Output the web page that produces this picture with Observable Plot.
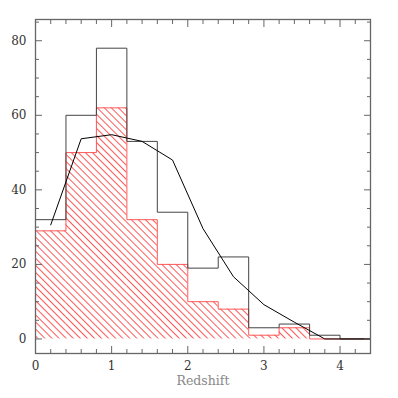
<!DOCTYPE html>
<html><head>
<meta charset="utf-8">
<script src="https://cdn.jsdelivr.net/npm/d3@7"></script>
<script src="https://cdn.jsdelivr.net/npm/@observablehq/plot@0.6"></script>
<style>body{margin:0;background:#fff}</style>
</head><body><div id="chart"></div>
<script>
// Histogram bins (redshift)
const binEdges = [0, 0.4, 0.8, 1.2, 1.6, 2.0, 2.4, 2.8, 3.2, 3.6, 4.0, 4.4];
const allCounts = [32, 60, 78, 53, 34, 19, 22, 3, 4, 1, 0];
const subCounts = [29, 50, 62, 32, 20, 10, 8, 1, 3, 0, 0];
// Model curve
const curveX = [0.2, 0.6, 1.0, 1.4, 1.8, 2.2, 2.6, 3.0, 3.4, 3.8, 4.2, 4.4];
const curveY = [30.6, 53.7, 54.8, 53, 48, 29.6, 16.7, 9.2, 4.5, 0, 0, 0];
// Ticks
const xMajor = [0, 1, 2, 3, 4];
const xMinor = [0.2,0.4,0.6,0.8,1.2,1.4,1.6,1.8,2.2,2.4,2.6,2.8,3.2,3.4,3.6,3.8,4.2];
const yMajor = [0, 20, 40, 60, 80];
const yMinor = [5,10,15,25,30,35,45,50,55,65,70,75,85];
const xTitle = ["Redshift"];

function stepData(counts) {
  const pts = [{x: binEdges[0], y: 0}];
  counts.forEach((c, i) => pts.push({x: binEdges[i], y: c}));
  pts.push({x: binEdges[binEdges.length - 1], y: counts[counts.length - 1]});
  return pts;
}
const bins = subCounts.map((c, i) => ({x1: binEdges[i], x2: binEdges[i + 1], y: c}));
const curve = curveX.map((x, i) => ({x, y: curveY[i]}));

const frameColor = "#666";
const svg = Plot.plot({
  width: 398, height: 398,
  marginLeft: 35, marginRight: 28, marginTop: 19, marginBottom: 45,
  style: {fontFamily: "DejaVu Serif", fontSize: "12px", color: "#333", background: "#fff"},
  x: {domain: [0, 4.4], label: null},
  y: {domain: [-3.9, 85.7], label: null},
  marks: [
    Plot.rectY(bins, {x1: "x1", x2: "x2", y: "y", fill: "url(#hatch)"}),
    Plot.line(stepData(subCounts), {x: "x", y: "y", curve: "step-after", stroke: "#ff5a5a", strokeWidth: 1}),
    Plot.line(stepData(allCounts), {x: "x", y: "y", curve: "step-after", stroke: "#444", strokeWidth: 1}),
    Plot.line(curve, {x: "x", y: "y", stroke: "#000", strokeWidth: 1}),
    Plot.frame({stroke: frameColor, strokeWidth: 1.3}),
    // inward ticks
    Plot.axisX(xMajor, {anchor: "bottom", tickSize: -7, tickFormat: () => "", stroke: frameColor}),
    Plot.axisX(xMinor, {anchor: "bottom", tickSize: -4, tickFormat: () => "", stroke: frameColor}),
    Plot.axisX(xMajor, {anchor: "top", tickSize: -7, tickFormat: () => "", stroke: frameColor}),
    Plot.axisX(xMinor, {anchor: "top", tickSize: -4, tickFormat: () => "", stroke: frameColor}),
    Plot.axisY(yMajor, {anchor: "left", tickSize: -7, tickFormat: () => "", stroke: frameColor}),
    Plot.axisY(yMinor, {anchor: "left", tickSize: -4, tickFormat: () => "", stroke: frameColor}),
    Plot.axisY(yMajor, {anchor: "right", tickSize: -7, tickFormat: () => "", stroke: frameColor}),
    Plot.axisY(yMinor, {anchor: "right", tickSize: -4, tickFormat: () => "", stroke: frameColor}),
    // labels
    Plot.axisX(xMajor, {anchor: "bottom", tickSize: 0, tickPadding: 8, fill: "#333", label: null}),
    Plot.axisY(yMajor, {anchor: "left", tickSize: 0, tickPadding: 9, fill: "#333", label: null}),
    Plot.text(xTitle, {frameAnchor: "bottom", dy: 31, fill: "#888", fontSize: 12.5, text: d => d})
  ]
});
const defs = document.createElementNS("http://www.w3.org/2000/svg", "defs");
defs.innerHTML = `<pattern id="hatch" patternUnits="userSpaceOnUse" width="5" height="10" patternTransform="rotate(-45)">
  <line x1="2.5" y1="0" x2="2.5" y2="10" stroke="#ff4545" stroke-width="0.9"/></pattern>`;
svg.insertBefore(defs, svg.firstChild);
document.getElementById("chart").appendChild(svg);
</script>
</body></html>
